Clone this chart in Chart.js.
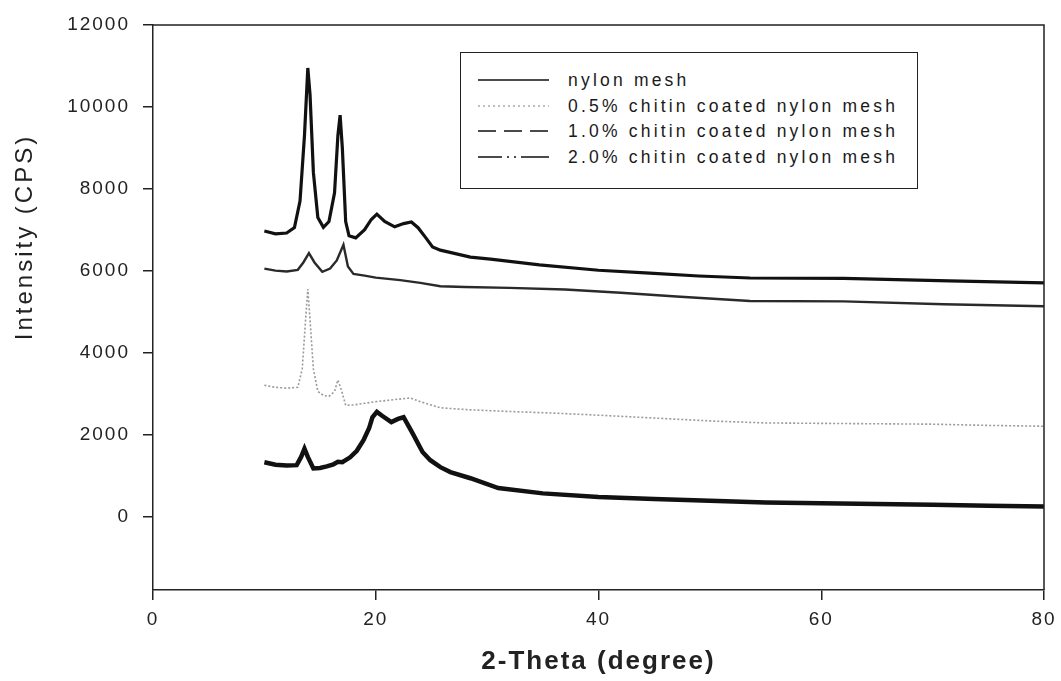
<!DOCTYPE html>
<html>
<head>
<meta charset="utf-8">
<script src="https://cdn.jsdelivr.net/npm/chart.js@4.4.1/dist/chart.umd.min.js"></script>
<style>
  body { margin: 0; background: #fff; overflow: hidden; }
  #wrap { position: relative; width: 1061px; height: 681px; overflow: hidden; }
  #myChart { position: absolute; left: 0; top: 0; }
  #legend {
    position: absolute; left: 460px; top: 52px; width: 456px; height: 135px;
    border: 1.5px solid #222; background: #fff;
    font-family: 'Liberation Sans', Arial, sans-serif; font-size: 17.5px;
    letter-spacing: 3.2px; color: #1a1a1a;
  }
  .row { position: absolute; left: 0; width: 100%; height: 26px; line-height: 26px; }
  .row svg { position: absolute; left: 16px; top: 0; }
  .row span { position: absolute; left: 107px; white-space: nowrap; }
</style>
</head>
<body>
<div id="wrap">
  <canvas id="myChart" width="1075" height="681"></canvas>
  <div id="legend"></div>
</div>
<script>
'use strict';

// 2-theta positions and intensities
let nylonX = [10, 11, 12, 12.9, 13.3, 13.6, 13.9, 14.4, 15, 15.6, 16.2, 16.6, 17.0, 17.7, 18.3, 18.9, 19.4, 19.7, 20.1, 20.6, 21.4, 22.0, 22.5, 23.3, 24.2, 24.9, 25.8, 26.7, 28.5, 31, 35, 40, 45, 50, 55, 60, 65, 70, 75, 80];
let nylonY = [1320, 1260, 1240, 1250, 1450, 1650, 1450, 1170, 1180, 1220, 1270, 1330, 1320, 1440, 1600, 1860, 2150, 2420, 2550, 2450, 2300, 2380, 2420, 2030, 1570, 1370, 1200, 1080, 930, 690, 560, 470, 420, 380, 340, 320, 300, 280, 260, 240];

let chitin05X = [10, 11, 12, 13, 13.4, 13.7, 13.9, 14.1, 14.4, 14.8, 15.3, 15.8, 16.3, 16.6, 16.9, 17.3, 18, 19, 20, 21, 22, 23.1, 24, 25.8, 28.5, 32, 36, 40, 45, 50, 55, 60, 65, 70, 75, 80];
let chitin05Y = [3200, 3150, 3130, 3150, 3600, 4800, 5550, 4800, 3600, 3050, 2950, 2930, 3050, 3330, 3100, 2710, 2720, 2760, 2800, 2830, 2860, 2890, 2800, 2650, 2600, 2560, 2520, 2470, 2400, 2330, 2280, 2270, 2260, 2250, 2220, 2200];

let chitin10X = [10, 11, 12, 13, 13.5, 14.0, 14.5, 15.2, 15.9, 16.5, 17.1, 17.5, 18, 19, 20, 22.2, 24, 25.8, 28, 32, 37, 42, 47, 53.6, 62, 71, 80];
let chitin10Y = [6050, 6000, 5980, 6020, 6200, 6430, 6200, 5970, 6050, 6250, 6630, 6100, 5920, 5880, 5830, 5770, 5700, 5620, 5600, 5580, 5540, 5460, 5370, 5260, 5250, 5180, 5130];

let chitin20X = [10, 11, 12, 12.7, 13.2, 13.6, 13.9, 14.1, 14.4, 14.8, 15.3, 15.8, 16.3, 16.6, 16.8, 17.0, 17.3, 17.6, 18.2, 19.0, 19.6, 20.1, 20.8, 21.7, 22.5, 23.2, 23.8, 24.5, 25.1, 25.8, 28.5, 30.3, 34.7, 40, 44.6, 49, 53.6, 62, 71.5, 80];
let chitin20Y = [6970, 6900, 6920, 7050, 7700, 9300, 10950, 10300, 8400, 7300, 7060, 7200, 7900, 9300, 9800, 9000, 7200, 6850, 6800, 7000, 7250, 7380, 7200, 7070, 7150, 7190, 7050, 6800, 6580, 6500, 6330, 6280, 6140, 6010, 5940, 5870, 5820, 5810, 5750, 5700];

let seriesNames = ['nylon mesh', '0.5% chitin coated nylon mesh', '1.0% chitin coated nylon mesh', '2.0% chitin coated nylon mesh'];
let yTicks = [0, 2000, 4000, 6000, 8000, 10000, 12000];
let xTicks = [0, 20, 40, 60, 80];

function toPoints(xs, ys) {
  return xs.map((x, i) => ({ x: x, y: ys[i] }));
}

// legend drawn as html, with svg line samples
let legendStyles = [
  { color: '#111', width: 1.6, dash: '' },
  { color: '#aaa', width: 1.6, dash: '2 3' },
  { color: '#111', width: 1.4, dash: '18 8' },
  { color: '#111', width: 1.6, dash: '24 5 2 5 2 5 30' }
];
let legendRows = [14, 40, 65, 91];
let legend = document.getElementById('legend');
for (let i = 0; i < seriesNames.length; i++) {
  let row = document.createElement('div');
  row.className = 'row';
  row.style.top = legendRows[i] + 'px';
  let s = legendStyles[i];
  row.innerHTML = `<svg width="74" height="26"><line x1="1" y1="13" x2="72" y2="13" stroke="${s.color}" stroke-width="${s.width}" stroke-dasharray="${s.dash}"/></svg><span>${seriesNames[i]}</span>`;
  legend.appendChild(row);
}

let framePlugin = {
  id: 'frame',
  beforeUpdate(chart) {
    chart.ctx.letterSpacing = '2px';
  },
  beforeDraw(chart) {
    chart.ctx.letterSpacing = '2px';
  },
  afterDraw(chart) {
    let ctx = chart.ctx;
    let a = chart.chartArea;
    ctx.save();
    ctx.strokeStyle = '#222';
    ctx.lineWidth = 1.5;
    ctx.beginPath();
    ctx.moveTo(a.left, a.top);
    ctx.lineTo(a.right, a.top);
    ctx.lineTo(a.right, a.bottom);
    ctx.stroke();
    // y axis title, sits above the middle of the axis in the original
    ctx.translate(25, a.top + 212);
    ctx.rotate(-Math.PI / 2);
    ctx.letterSpacing = '3px';
    ctx.font = "24px 'Liberation Sans', Arial, sans-serif";
    ctx.fillStyle = '#222';
    ctx.textAlign = 'center';
    ctx.textBaseline = 'middle';
    ctx.fillText('Intensity (CPS)', 0, 0);
    ctx.restore();
  }
};

Chart.defaults.font.family = "'Liberation Sans', Arial, sans-serif";
Chart.defaults.color = '#222';

let ctx = document.getElementById('myChart');

let config = {
  type: 'scatter',
  data: {
    datasets: [
      {
        label: seriesNames[0],
        data: toPoints(nylonX, nylonY),
        borderColor: '#111',
        borderWidth: 4.5,
      },
      {
        label: seriesNames[1],
        data: toPoints(chitin05X, chitin05Y),
        borderColor: '#9a9a9a',
        borderWidth: 1.6,
        borderDash: [2, 2],
      },
      {
        label: seriesNames[2],
        data: toPoints(chitin10X, chitin10Y),
        borderColor: '#2a2a2a',
        borderWidth: 2.4,
      },
      {
        label: seriesNames[3],
        data: toPoints(chitin20X, chitin20Y),
        borderColor: '#111',
        borderWidth: 3.2,
      }
    ]
  },
  options: {
    responsive: false,
    animation: false,
    showLine: true,
    elements: { point: { radius: 0 }, line: { tension: 0 } },
    layout: { padding: { top: 25, right: 31, left: 0, bottom: 0 } },
    plugins: { legend: { display: false }, tooltip: { enabled: false } },
    scales: {
      x: {
        type: 'linear',
        min: 0,
        max: 80,
        afterBuildTicks: (s) => { s.ticks = xTicks.map(v => ({ value: v })); },
        afterFit: (s) => { s.height = 91; },
        ticks: { font: { size: 19 }, padding: 8, color: '#222', callback: (v) => String(v) },
        grid: { drawOnChartArea: false, tickLength: 10, color: '#222', lineWidth: 1.5 },
        border: { color: '#222', width: 1.5 },
        title: { display: true, text: '2-Theta (degree)', font: { size: 26, weight: 'bold' }, color: '#222' }
      },
      y: {
        type: 'linear',
        min: -1800,
        max: 12000,
        afterBuildTicks: (s) => { s.ticks = yTicks.map(v => ({ value: v })); },
        afterFit: (s) => { s.width = 153; },
        ticks: { font: { size: 19 }, padding: 13, color: '#222', callback: (v) => String(v) },
        grid: { drawOnChartArea: false, tickLength: 10, color: '#222', lineWidth: 1.5 },
        border: { color: '#222', width: 1.5 }
      }
    }
  },
  plugins: [framePlugin]
};

new Chart(ctx, config);
</script>
</body>
</html>
